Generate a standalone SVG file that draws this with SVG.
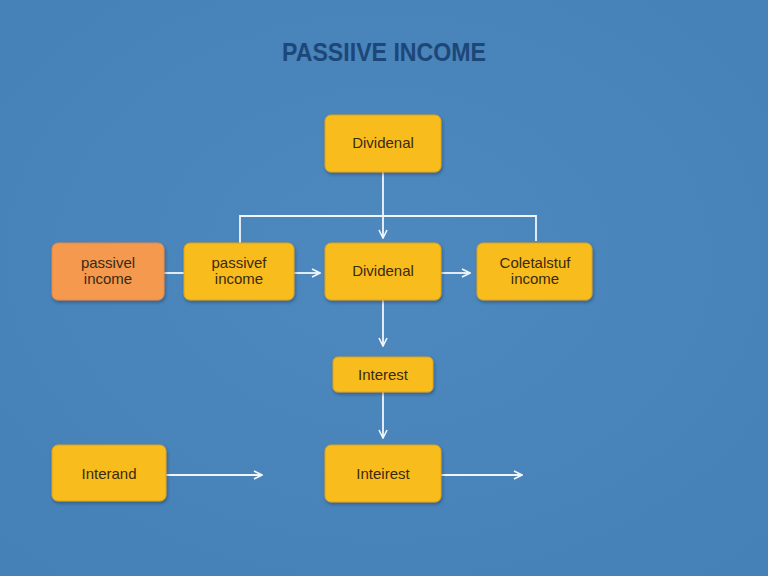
<svg xmlns="http://www.w3.org/2000/svg" width="768" height="576" viewBox="0 0 768 576">
<defs>
<filter id="sh" x="-20%" y="-20%" width="140%" height="150%">
<feDropShadow dx="1" dy="2" stdDeviation="1.5" flood-color="#1a3050" flood-opacity="0.45"/>
</filter>
<marker id="ah" viewBox="0 0 10 10" refX="9" refY="5" markerWidth="10" markerHeight="10" markerUnits="userSpaceOnUse" orient="auto">
<path d="M1,1 L9,5 L1,9" fill="none" stroke="#f2f6fb" stroke-width="1.6"/>
</marker>
<radialGradient id="bg" cx="50%" cy="45%" r="70%">
<stop offset="0" stop-color="#4d88be"/>
<stop offset="1" stop-color="#4580b6"/>
</radialGradient>
<style>
.n{fill:#f8bd1c;stroke:#e0a410;stroke-width:1;filter:url(#sh)}
.o{fill:#f5994f;stroke:#e58a40;stroke-width:1;filter:url(#sh)}
.t{font-family:"Liberation Sans",Arial,sans-serif;font-size:15px;fill:#3a2a12;text-anchor:middle}
.c{fill:none;stroke:#f2f6fb;stroke-width:1.8}
.title{font-family:"Liberation Sans",Arial,sans-serif;font-size:25px;font-weight:bold;fill:#1d4778;text-anchor:middle}
</style>
</defs>
<rect width="768" height="576" fill="url(#bg)"/>
<text class="title" x="384" y="61" textLength="204" lengthAdjust="spacingAndGlyphs">PASSIIVE INCOME</text>
<g id="connectors">
<path class="c" d="M383,172 V238" marker-end="url(#ah)"/>
<path class="c" d="M240,243 V216 H536 V241"/>
<path class="c" d="M164,273 H184"/>
<path class="c" d="M294,273 H320" marker-end="url(#ah)"/>
<path class="c" d="M441,273 H470" marker-end="url(#ah)"/>
<path class="c" d="M383,300 V346" marker-end="url(#ah)"/>
<path class="c" d="M383,392 V438" marker-end="url(#ah)"/>
<path class="c" d="M166,475 H262" marker-end="url(#ah)"/>
<path class="c" d="M441,475 H522" marker-end="url(#ah)"/>
</g>
<g id="dividenal-top"><rect class="n" x="325" y="115" width="116" height="57" rx="6"/><text class="t" x="383" y="148">Dividenal</text></g>
<g id="passivel-income"><rect class="o" x="52" y="243" width="112" height="57" rx="6"/><text class="t" x="108" y="268">passivel</text><text class="t" x="108" y="284">income</text></g>
<g id="passivef-income"><rect class="n" x="184" y="243" width="110" height="57" rx="6"/><text class="t" x="239" y="268">passivef</text><text class="t" x="239" y="284">income</text></g>
<g id="dividenal-mid"><rect class="n" x="325" y="243" width="116" height="57" rx="6"/><text class="t" x="383" y="276">Dividenal</text></g>
<g id="coletalstuf-income"><rect class="n" x="477" y="243" width="115" height="57" rx="6"/><text class="t" x="535" y="268">Coletalstuf</text><text class="t" x="535" y="284">income</text></g>
<g id="interest-small"><rect class="n" x="333" y="357" width="100" height="35" rx="5"/><text class="t" x="383" y="380">Interest</text></g>
<g id="interand"><rect class="n" x="52" y="445" width="114" height="56" rx="6"/><text class="t" x="109" y="479">Interand</text></g>
<g id="interiest"><rect class="n" x="325" y="445" width="116" height="57" rx="6"/><text class="t" x="383" y="479">Inteirest</text></g>
</svg>
